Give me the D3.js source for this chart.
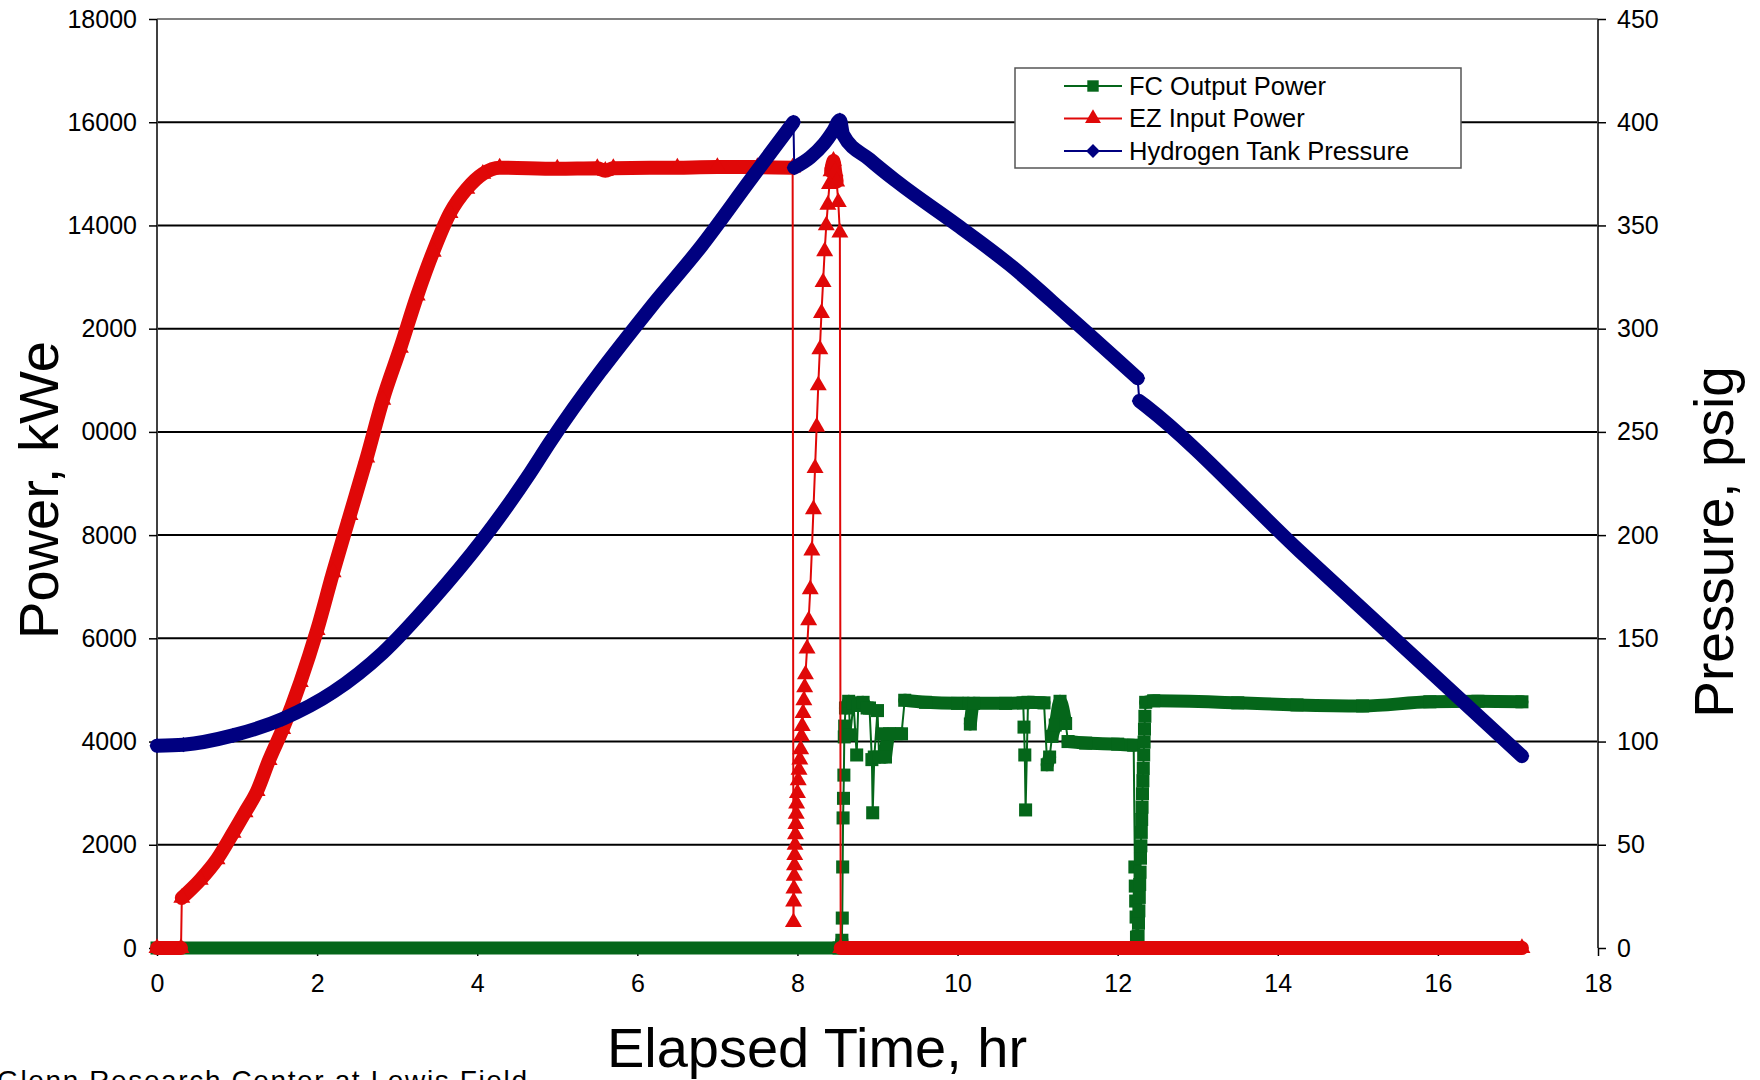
<!DOCTYPE html>
<html>
<head>
<meta charset="utf-8">
<script src="https://cdn.jsdelivr.net/npm/d3@7/dist/d3.min.js"></script>
<style>
body { margin: 0; background: #fff; }
svg { display: block; font-family: Arial, "Liberation Sans", sans-serif; }
</style>
</head>
<body>
<script>
// axis ticks and labels (left labels are clipped in the original: 12000 -> "2000", 10000 -> "0000")
var timeTicks = [0, 2, 4, 6, 8, 10, 12, 14, 16, 18];
var powerTicks = [0, 2000, 4000, 6000, 8000, 10000, 12000, 14000, 16000, 18000];
var powerTickLabels = ["0", "2000", "4000", "6000", "8000", "0000", "2000", "14000", "16000", "18000"];
var pressureTicks = [0, 50, 100, 150, 200, 250, 300, 350, 400, 450];

var seriesNames = ["FC Output Power", "EZ Input Power", "Hydrogen Tank Pressure"];

// FC Output Power [hr, kWe]
var fcOutputPower = [
    [0, 0], [8.52, 0], [8.555, 150], [8.56, 580], [8.565, 1570], [8.57, 2520], [8.575, 2900],
    [8.58, 3350], [8.585, 4090], [8.59, 4300], [8.6, 4650], [8.64, 4780], [8.66, 4130],
    [8.7, 4750], [8.74, 3740], [8.76, 4700], [8.82, 4760], [8.87, 4650], [8.9, 4650],
    [8.93, 3650], [8.94, 2620], [8.96, 3700], [9.0, 4600], [9.02, 3700], [9.06, 4150],
    [9.1, 3700], [9.15, 4150], [9.3, 4150], [9.34, 4800], [9.6, 4760], [10.0, 4740],
    [10.14, 4740], [10.16, 4340], [10.2, 4740], [10.6, 4740], [10.82, 4750], [10.83, 4280],
    [10.84, 3740], [10.85, 2675], [10.88, 4760], [11.08, 4750], [11.12, 3550], [11.15, 3700],
    [11.18, 4100], [11.22, 4320], [11.28, 4780], [11.35, 4350], [11.38, 4000], [11.6, 3970],
    [12.0, 3950], [12.2, 3930], [12.215, 1570], [12.22, 1200], [12.225, 910], [12.23, 600],
    [12.235, 210], [12.25, 0], [12.255, 230], [12.26, 480], [12.265, 720], [12.27, 980],
    [12.275, 1230], [12.28, 1470], [12.285, 1740], [12.29, 1980], [12.295, 2240], [12.3, 2490],
    [12.305, 2730], [12.31, 2990], [12.315, 3240], [12.32, 3480], [12.325, 3740], [12.33, 3990],
    [12.335, 4240], [12.34, 4490], [12.35, 4760], [12.45, 4790], [13.5, 4750], [14.24, 4710],
    [15.06, 4690], [15.9, 4770], [16.5, 4780], [17.05, 4770]
];

// EZ Input Power [hr, kWe]
var ezInputPower = [
    [0, 0], [0.3, 0], [0.31, 970], [0.54, 1320], [0.75, 1720], [0.95, 2230], [1.1, 2630],
    [1.25, 3040], [1.4, 3640], [1.57, 4240], [1.79, 5150], [2.0, 6160], [2.2, 7280],
    [2.41, 8390], [2.62, 9500], [2.82, 10620], [3.04, 11630], [3.25, 12640], [3.45, 13490],
    [3.66, 14240], [3.87, 14710], [4.07, 15000], [4.28, 15120], [5.0, 15100], [5.5, 15110],
    [5.6, 15060], [5.7, 15110], [6.5, 15120], [7.0, 15130], [7.5, 15130], [7.94, 15120],
    [7.95, 500], [7.953, 900], [7.956, 1150], [7.96, 1400], [7.963, 1600], [7.966, 1800],
    [7.97, 2000], [7.975, 2200], [7.98, 2400], [7.985, 2600], [7.99, 2800], [8.0, 3000],
    [8.01, 3250], [8.02, 3450], [8.03, 3650], [8.04, 3850], [8.05, 4100], [8.06, 4300],
    [8.07, 4550], [8.08, 4800], [8.09, 5050], [8.1, 5300], [8.12, 5800], [8.14, 6350],
    [8.16, 6950], [8.18, 7700], [8.2, 8500], [8.22, 9300], [8.24, 10100], [8.26, 10900],
    [8.28, 11600], [8.3, 12300], [8.32, 12900], [8.34, 13500], [8.36, 14000], [8.38, 14400],
    [8.4, 14800], [8.42, 15050], [8.44, 15200], [8.45, 15250], [8.47, 15050], [8.49, 14850],
    [8.51, 14450], [8.53, 13860], [8.54, 0], [17.05, 0]
];

// Hydrogen Tank Pressure [hr, psig]
var tankPressure = [
    [0, 98], [0.33, 98.5], [0.95, 103], [1.57, 111], [2.2, 124], [2.82, 143], [3.45, 169],
    [4.07, 198], [4.66, 230], [4.91, 245], [6.16, 310], [6.8, 340], [7.41, 372], [7.95, 400],
    [7.96, 378], [8.16, 383], [8.33, 389.5], [8.45, 396], [8.53, 401], [8.57, 394], [8.9, 382],
    [9.25, 371], [10.0, 350], [10.65, 331], [11.36, 307], [12.25, 276], [12.27, 265],
    [12.35, 262.6], [14.28, 192], [17.05, 93]
];

var green = "#05661a",
    red = "#e00808",
    navy = "#000080";

window.onload = function() {
    drawChart();
};

function drawChart() {

    var width = 1760,
        height = 1080;

    var svg = d3.select("body")
        .append("svg")
        .attr("width", width)
        .attr("height", height);

    //scales
    var x = d3.scaleLinear().domain([0, 18]).range([157, 1598]);
    var yPower = d3.scaleLinear().domain([0, 18000]).range([948, 19]);
    var yPressure = d3.scaleLinear().domain([0, 450]).range([948, 19]);

    //gridlines
    svg.selectAll(".grid")
        .data(powerTicks.slice(1, -1))
        .enter()
        .append("line")
        .attr("class", "grid")
        .attr("x1", x(0))
        .attr("x2", x(18))
        .attr("y1", function(d) { return yPower(d); })
        .attr("y2", function(d) { return yPower(d); })
        .attr("stroke", "#000")
        .attr("stroke-width", 2);

    //plot frame
    svg.append("line")
        .attr("x1", x(0)).attr("x2", x(18))
        .attr("y1", yPower(18000)).attr("y2", yPower(18000))
        .attr("stroke", "#808080").attr("stroke-width", 2);
    svg.append("line")
        .attr("x1", x(0)).attr("x2", x(0))
        .attr("y1", yPower(18000)).attr("y2", yPower(0))
        .attr("stroke", "#404040").attr("stroke-width", 2);
    svg.append("line")
        .attr("x1", x(18)).attr("x2", x(18))
        .attr("y1", yPower(18000)).attr("y2", yPower(0))
        .attr("stroke", "#404040").attr("stroke-width", 2);

    //axes
    var leftAxis = svg.append("g")
        .attr("transform", "translate(" + x(0) + ",0)")
        .call(d3.axisLeft(yPower)
            .tickValues(powerTicks)
            .tickSize(8)
            .tickPadding(12)
            .tickFormat(function(d, i) { return powerTickLabels[i]; }));

    var rightAxis = svg.append("g")
        .attr("transform", "translate(" + x(18) + ",0)")
        .call(d3.axisRight(yPressure)
            .tickValues(pressureTicks)
            .tickSize(8)
            .tickPadding(11));

    var bottomAxis = svg.append("g")
        .attr("transform", "translate(0," + yPower(0) + ")")
        .call(d3.axisBottom(x)
            .tickValues(timeTicks)
            .tickSize(8)
            .tickPadding(18));

    [leftAxis, rightAxis, bottomAxis].forEach(function(a) {
        a.select(".domain").remove();
        a.selectAll("line").attr("stroke", "#000").attr("stroke-width", 1.5);
        a.selectAll("text")
            .attr("font-size", 25)
            .attr("fill", "#000")
            .attr("font-family", "Arial, 'Liberation Sans', sans-serif");
    });

    //series
    var plot = svg.append("g");

    drawSeries(plot, fcOutputPower, x, yPower, green, d3.symbol().type(d3.symbolSquare).size(170), 0, 13);
    drawSeries(plot, ezInputPower, x, yPower, red, d3.symbol().type(d3.symbolTriangle).size(125), 0, 14);
    drawSeries(plot, tankPressure, x, yPressure, navy, d3.symbol().type(d3.symbolSquare).size(115), 45, 14);

    //axis titles
    svg.append("text")
        .attr("transform", "translate(58,490) rotate(-90)")
        .attr("text-anchor", "middle")
        .attr("font-size", 56)
        .text("Power, kWe");

    svg.append("text")
        .attr("transform", "translate(1733,542) rotate(-90)")
        .attr("text-anchor", "middle")
        .attr("font-size", 55)
        .text("Pressure, psig");

    svg.append("text")
        .attr("x", 817)
        .attr("y", 1067)
        .attr("text-anchor", "middle")
        .attr("font-size", 56)
        .text("Elapsed Time, hr");

    svg.append("text")
        .attr("x", -3)
        .attr("y", 1090)
        .attr("font-size", 28)
        .attr("textLength", 530)
        .attr("lengthAdjust", "spacing")
        .text("Glenn Research Center at Lewis Field");

    //legend
    var legend = svg.append("g");
    legend.append("rect")
        .attr("x", 1015).attr("y", 68)
        .attr("width", 446).attr("height", 100)
        .attr("fill", "#fff")
        .attr("stroke", "#555")
        .attr("stroke-width", 1.5);

    var legendItems = [
        { name: seriesNames[0], color: green, sym: d3.symbol().type(d3.symbolSquare).size(130), rot: 0 },
        { name: seriesNames[1], color: red, sym: d3.symbol().type(d3.symbolTriangle).size(110), rot: 0 },
        { name: seriesNames[2], color: navy, sym: d3.symbol().type(d3.symbolSquare).size(95), rot: 45 }
    ];

    var rows = legend.selectAll(".legendRow")
        .data(legendItems)
        .enter()
        .append("g")
        .attr("class", "legendRow")
        .attr("transform", function(d, i) { return "translate(0," + (86 + i * 32.5) + ")"; });

    rows.append("line")
        .attr("x1", 1064).attr("x2", 1122)
        .attr("stroke", function(d) { return d.color; })
        .attr("stroke-width", 2);

    rows.append("path")
        .attr("transform", function(d) { return "translate(1093,0) rotate(" + d.rot + ")"; })
        .attr("d", function(d) { return d.sym(); })
        .attr("fill", function(d) { return d.color; });

    rows.append("text")
        .attr("x", 1129)
        .attr("dy", "0.35em")
        .attr("font-size", 25.5)
        .text(function(d) { return d.name; });
}

//thin connecting line, a marker-wide band where markers overlap, and the markers themselves
function drawSeries(g, data, x, y, color, symbol, rot, band) {
    var pts = data.map(function(d) { return [x(d[0]), y(d[1])]; });

    g.append("path")
        .datum(pts)
        .attr("d", d3.line())
        .attr("fill", "none")
        .attr("stroke", color)
        .attr("stroke-width", 2);

    //steep jumps stay thin, everything else looks like a run of overlapping markers
    var runs = [],
        cur = [pts[0]];
    for (var i = 1; i < pts.length; i++) {
        var dx = Math.abs(pts[i][0] - pts[i - 1][0]),
            dy = Math.abs(pts[i][1] - pts[i - 1][1]);
        if (dy > 5 && dx < 0.15 * dy) {
            runs.push(cur);
            cur = [pts[i]];
        } else {
            cur.push(pts[i]);
        }
    }
    runs.push(cur);

    var bandLine = d3.line().curve(d3.curveMonotoneX);

    runs.filter(function(r) { return r.length > 1; }).forEach(function(r) {
        g.append("path")
            .datum(r)
            .attr("d", bandLine)
            .attr("fill", "none")
            .attr("stroke", color)
            .attr("stroke-width", band)
            .attr("stroke-linejoin", "round")
            .attr("stroke-linecap", "round");
    });

    g.selectAll(null)
        .data(pts)
        .enter()
        .append("path")
        .attr("transform", function(p) { return "translate(" + p[0] + "," + p[1] + ") rotate(" + rot + ")"; })
        .attr("d", symbol())
        .attr("fill", color);
}
</script>
</body>
</html>
